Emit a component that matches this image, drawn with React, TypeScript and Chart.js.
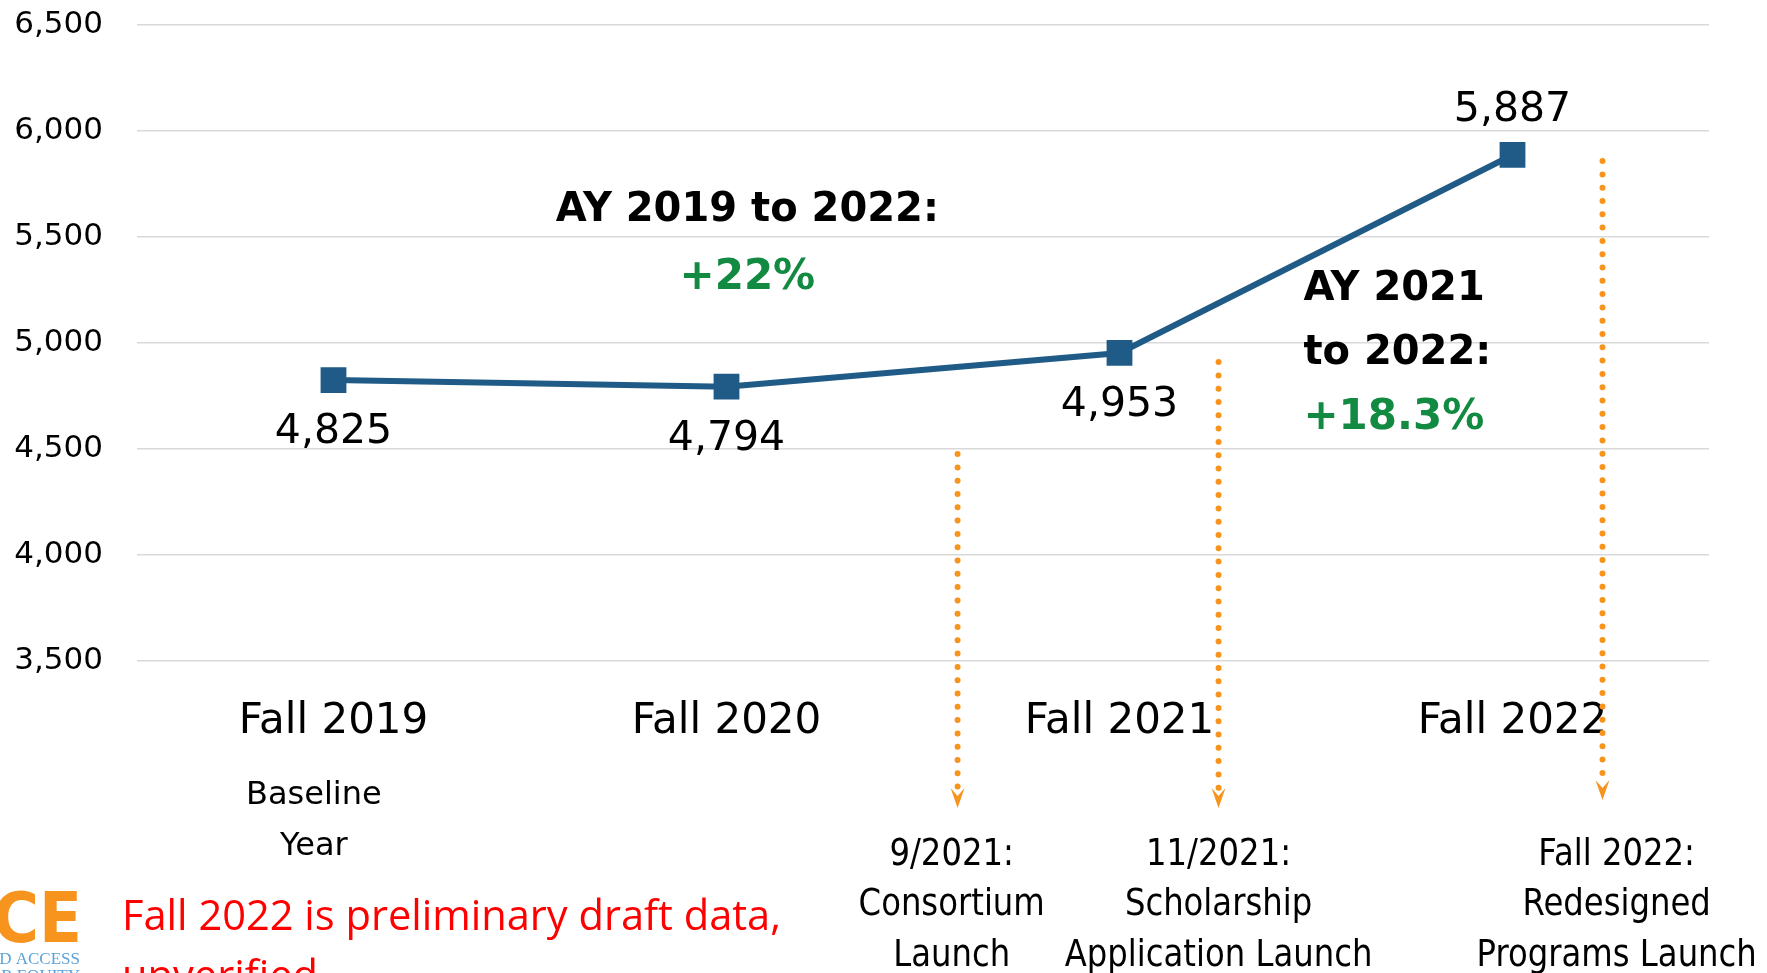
import React, { useEffect, useRef } from "react";
import { Chart, registerables } from "chart.js";

Chart.register(...registerables);

// ---- data ----
const categories = ["Fall 2019", "Fall 2020", "Fall 2021", "Fall 2022"];
const enrollment = [4825, 4794, 4953, 5887];
const yMin = 3500;
const yMax = 6500;
const yStep = 500;

const overallChangeTitle = "AY 2019 to 2022:";
const overallChangeValue = "+22%";
const recentChangeTitle = ["AY 2021", "to 2022:"];
const recentChangeValue = "+18.3%";

const milestoneLabels = [
  ["9/2021:", "Consortium", "Launch"],
  ["11/2021:", "Scholarship", "Application Launch"],
  ["Fall 2022:", "Redesigned", "Programs Launch"],
];
const baselineNote = ["Baseline", "Year"];
const draftNote = ["Fall 2022 is preliminary draft data,", "unverified"];

const LINE_COLOR = "#1F5B86";
const ORANGE = "#F7941D";
const GREEN = "#128A42";
const FONT = "'DejaVu Sans', Lato, sans-serif";

const W = 1767;
const H = 973;

const extrasPlugin = {
  id: "extras",
  afterDraw(chart: any) {
    const ctx: CanvasRenderingContext2D = chart.ctx;
    const xs = chart.scales.x;
    const ys = chart.scales.y;
    const area = chart.chartArea;
    const dy = 3.5;
    ctx.save();

    // data labels
    ctx.fillStyle = "#000";
    ctx.font = `41px ${FONT}`;
    ctx.textAlign = "center";
    ctx.textBaseline = "middle";
    enrollment.forEach((v, i) => {
      const px = xs.getPixelForValue(i);
      const py = ys.getPixelForValue(v);
      const above = i === enrollment.length - 1;
      ctx.fillText(v.toLocaleString("en-US"), px, (above ? py - 48 : py + 49) + dy);
    });

    // overall change annotation
    ctx.font = `bold 40px ${FONT}`;
    ctx.fillStyle = "#000";
    ctx.fillText(overallChangeTitle, xs.getPixelForValue(1.053), ys.getPixelForValue(5641) + dy);
    ctx.fillStyle = GREEN;
    ctx.font = `bold 42px ${FONT}`;
    ctx.fillText(overallChangeValue, xs.getPixelForValue(1.053), ys.getPixelForValue(5325) + dy);

    // recent change annotation
    ctx.textAlign = "left";
    const rx = xs.getPixelForValue(2.468);
    ctx.fillStyle = "#000";
    ctx.font = `bold 40px ${FONT}`;
    ctx.fillText(recentChangeTitle[0], rx, ys.getPixelForValue(5269) + dy);
    ctx.fillText(recentChangeTitle[1], rx, ys.getPixelForValue(4967) + dy);
    ctx.fillStyle = GREEN;
    ctx.font = `bold 42px ${FONT}`;
    ctx.fillText(recentChangeValue, rx, ys.getPixelForValue(4660) + dy);

    // milestone arrows
    const arrows = [
      { x: 1.588, top: 4476, tip: area.bottom + 147, tx: 1.573 },
      { x: 2.252, top: 4910, tip: area.bottom + 147, tx: 2.252 },
      { x: 3.229, top: 5858, tip: area.bottom + 139, tx: 3.265 },
    ];
    arrows.forEach((a, k) => {
      const ax = xs.getPixelForValue(a.x);
      const top = ys.getPixelForValue(a.top);
      ctx.strokeStyle = ORANGE;
      ctx.lineWidth = 6;
      ctx.lineCap = "round";
      ctx.setLineDash([0, 13.3]);
      ctx.beginPath();
      ctx.moveTo(ax, top);
      ctx.lineTo(ax, a.tip - 16);
      ctx.stroke();
      ctx.setLineDash([]);
      ctx.fillStyle = ORANGE;
      ctx.beginPath();
      ctx.moveTo(ax, a.tip);
      ctx.lineTo(ax - 7, a.tip - 20);
      ctx.lineTo(ax, a.tip - 12);
      ctx.lineTo(ax + 7, a.tip - 20);
      ctx.closePath();
      ctx.fill();

      ctx.fillStyle = "#000";
      ctx.font = `38px ${FONT}`;
      ctx.textAlign = "center";
      ctx.textBaseline = "middle";
      const tx = xs.getPixelForValue(a.tx);
      milestoneLabels[k].forEach((line, j) => {
        ctx.save();
        ctx.translate(tx, area.bottom + 194 + j * 50.5);
        ctx.scale(0.85, 1);
        ctx.fillText(line, 0, 0);
        ctx.restore();
      });
    });

    // baseline note
    ctx.font = `32px ${FONT}`;
    ctx.fillStyle = "#000";
    ctx.textAlign = "center";
    ctx.textBaseline = "middle";
    const bx = xs.getPixelForValue(-0.05);
    ctx.fillText(baselineNote[0], bx, area.bottom + 135);
    ctx.fillText(baselineNote[1], bx, area.bottom + 186);

    // draft note
    ctx.font = `36px 'Open Sans', sans-serif`;
    ctx.fillStyle = "#FF0000";
    ctx.textAlign = "left";
    ctx.textBaseline = "alphabetic";
    const target = 659;
    const wd = ctx.measureText(draftNote[0]).width;
    const size = (36 * target) / wd;
    ctx.font = `${size.toFixed(1)}px 'Open Sans', sans-serif`;
    ctx.fillText(draftNote[0], 122, area.bottom + 269);
    ctx.fillText(draftNote[1], 122, area.bottom + 329);

    // logo fragment
    ctx.fillStyle = ORANGE;
    ctx.font = `bold 70px 'Liberation Sans Narrow', 'DejaVu Sans Condensed', sans-serif`;
    ctx.textAlign = "right";
    ctx.fillText("CE", 82, area.bottom + 281);
    ctx.fillStyle = "#5BA3D9";
    ctx.font = `17px 'Liberation Serif', serif`;
    ctx.fillText("D ACCESS", 80, area.bottom + 303);
    ctx.fillText("R EQUITY", 80, area.bottom + 320);

    ctx.restore();
  },
};

export default function App() {
  const ref = useRef<HTMLCanvasElement | null>(null);

  useEffect(() => {
    if (!ref.current) return;
    const chart = new Chart(ref.current, {
      type: "line",
      data: {
        labels: categories,
        datasets: [
          {
            data: enrollment,
            borderColor: LINE_COLOR,
            backgroundColor: LINE_COLOR,
            borderWidth: 6,
            pointStyle: "rect",
            pointRadius: 14,
            pointHoverRadius: 14,
            tension: 0,
          },
        ],
      },
      options: {
        responsive: false,
        animation: false,
        devicePixelRatio: 1,
        layout: { padding: { top: 25, right: 58, left: 0, bottom: 0 } },
        plugins: {
          legend: { display: false },
          tooltip: { enabled: false },
          title: { display: false },
        },
        scales: {
          x: {
            type: "category",
            offset: true,
            grid: { display: false, drawTicks: false },
            border: { display: false },
            ticks: {
              color: "#000",
              font: { family: FONT, size: 42 },
              padding: 36,
              maxRotation: 0,
            },
            afterFit: (s: any) => {
              s.height = 312;
            },
          },
          y: {
            min: yMin,
            max: yMax,
            grid: {
              color: "#D9D9D9",
              lineWidth: 1.5,
              drawTicks: true,
              tickLength: 34,
              tickColor: "rgba(0,0,0,0)",
            },
            border: { display: false },
            ticks: {
              stepSize: yStep,
              color: "#000",
              font: { family: FONT, size: 31 },
              padding: 0,
              callback: (v: any) => Number(v).toLocaleString("en-US"),
            },
            afterFit: (s: any) => {
              s.width = 137;
            },
          },
        },
      },
      plugins: [extrasPlugin],
    });
    return () => chart.destroy();
  }, []);

  return (
    <div style={{ position: "absolute", left: 0, top: 0, width: W, height: H, overflow: "hidden", background: "#fff" }}>
      <canvas ref={ref} width={W} height={H} style={{ width: W, height: H, display: "block" }} />
    </div>
  );
}
